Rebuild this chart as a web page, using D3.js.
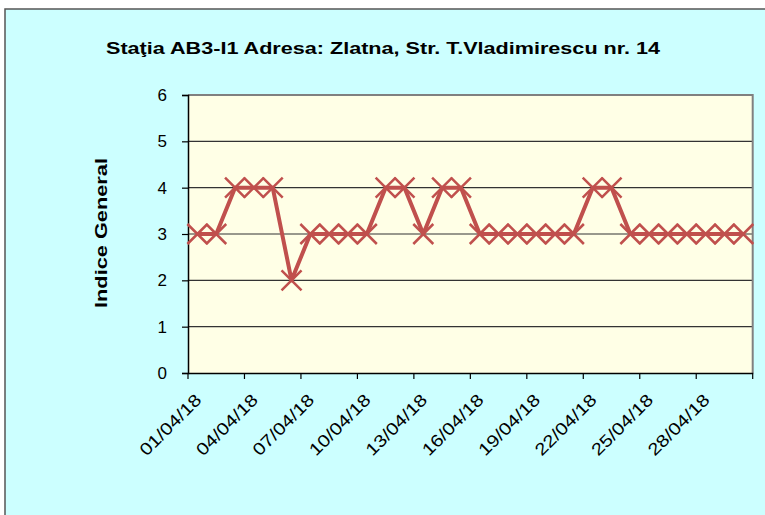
<!DOCTYPE html>
<html>
<head>
<meta charset="utf-8">
<script src="https://cdn.jsdelivr.net/npm/d3@7"></script>
<style>
  body { margin: 0; background: #fff; }
  text { font-family: "Liberation Sans", Arial, sans-serif; }
</style>
</head>
<body>
<script>
const days = d3.range(1, 31).map(d => String(d).padStart(2, '0') + '/04/18');
const values = [3, 3, 4, 4, 4, 2, 3, 3, 3, 3, 4, 4, 3, 4, 4, 3, 3, 3, 3, 3, 3, 4, 4, 3, 3, 3, 3, 3, 3, 3];
const yTicks = [0, 1, 2, 3, 4, 5, 6];
const title = 'Staţia AB3-I1 Adresa: Zlatna, Str. T.Vladimirescu nr. 14';

const width = 765;
const height = 515;
const plot = { left: 188, right: 752.7, top: 95, bottom: 373 };
const lineColor = '#c0504d';

const svg = d3.select('body').append('svg')
    .attr('width', width)
    .attr('height', height);

// chart area
svg.append('rect')
    .attr('x', 5).attr('y', 9)
    .attr('width', width + 10).attr('height', height + 10)
    .attr('fill', '#ccffff')
    .attr('stroke', '#555').attr('stroke-width', 1.5);

const xScale = d3.scaleBand()
    .domain(days)
    .range([plot.left, plot.right]);
const yScale = d3.scaleLinear()
    .domain([0, 6])
    .range([plot.bottom, plot.top]);

svg.append('rect')
    .attr('x', plot.left).attr('y', plot.top)
    .attr('width', plot.right - plot.left).attr('height', plot.bottom - plot.top)
    .attr('fill', '#ffffe6');

// gridlines
svg.append('g').selectAll('line').data(yTicks.slice(1, -1))
    .enter().append('line')
    .attr('x1', plot.left).attr('x2', plot.right)
    .attr('y1', d => yScale(d)).attr('y2', d => yScale(d))
    .attr('stroke', '#333').attr('stroke-width', 1.2);

// top and right border
svg.append('path')
    .attr('d', `M${plot.left},${plot.top}H${plot.right}V${plot.bottom}`)
    .attr('fill', 'none')
    .attr('stroke', '#808080').attr('stroke-width', 2);

// y axis
const yAxis = d3.axisLeft(yScale).tickValues(yTicks).tickFormat(d3.format('d'))
    .tickSize(6).tickPadding(15);
const gy = svg.append('g')
    .attr('transform', `translate(${plot.left}, 0)`)
    .call(yAxis)
    .attr('font-size', 17)
    .attr('font-family', null);
gy.select('.domain').attr('stroke', '#000').attr('stroke-width', 1.5);
gy.selectAll('.tick line').attr('stroke', '#000').attr('stroke-width', 1.2);
gy.selectAll('.tick text').attr('fill', '#000');

// x axis: ticks on category boundaries every 3 days
const bw = xScale.bandwidth();
const labelDays = days.filter((d, i) => i % 3 === 0);
const xAxis = d3.axisBottom(xScale).tickValues(labelDays).tickSize(6).tickSizeOuter(0);
const gx = svg.append('g')
    .attr('transform', `translate(0, ${plot.bottom})`)
    .call(xAxis)
    .attr('font-size', 17)
    .attr('font-family', null);
gx.select('.domain').attr('stroke', '#000').attr('stroke-width', 1.5);
gx.selectAll('.tick line')
    .attr('x1', -bw / 2).attr('x2', -bw / 2)
    .attr('stroke', '#000').attr('stroke-width', 1.2);
gx.append('line')
    .attr('x1', plot.right).attr('x2', plot.right)
    .attr('y1', 0).attr('y2', 6)
    .attr('stroke', '#000').attr('stroke-width', 1.2);
gx.selectAll('.tick text')
    .attr('fill', '#000')
    .attr('text-anchor', 'end')
    .attr('dy', 0).attr('y', 0)
    .attr('textLength', 79)
    .attr('lengthAdjust', 'spacingAndGlyphs')
    .attr('transform', 'translate(5, 28) rotate(-45)');

// line and markers
const cx = d => xScale(d) + bw / 2;
const line = d3.line()
    .x((v, i) => cx(days[i]))
    .y(v => yScale(v));

svg.append('path')
    .datum(values)
    .attr('d', line)
    .attr('fill', 'none')
    .attr('stroke', lineColor)
    .attr('stroke-width', 4)
    .attr('stroke-linejoin', 'round');

const s = 10;
svg.append('g').selectAll('path').data(values)
    .enter().append('path')
    .attr('d', (v, i) => {
        const x = cx(days[i]);
        const y = yScale(v);
        return `M${x - s},${y - s}L${x + s},${y + s}M${x - s},${y + s}L${x + s},${y - s}`;
    })
    .attr('stroke', lineColor)
    .attr('stroke-width', 2.5)
    .attr('fill', 'none');

// titles
svg.append('text')
    .attr('x', 106).attr('y', 54)
    .attr('font-size', 17).attr('font-weight', 'bold')
    .attr('textLength', 554)
    .attr('lengthAdjust', 'spacingAndGlyphs')
    .text(title);

svg.append('text')
    .attr('transform', 'translate(107, 233) rotate(-90)')
    .attr('x', -75)
    .attr('font-size', 17).attr('font-weight', 'bold')
    .attr('textLength', 150)
    .attr('lengthAdjust', 'spacingAndGlyphs')
    .text('Indice General');
</script>
</body>
</html>
